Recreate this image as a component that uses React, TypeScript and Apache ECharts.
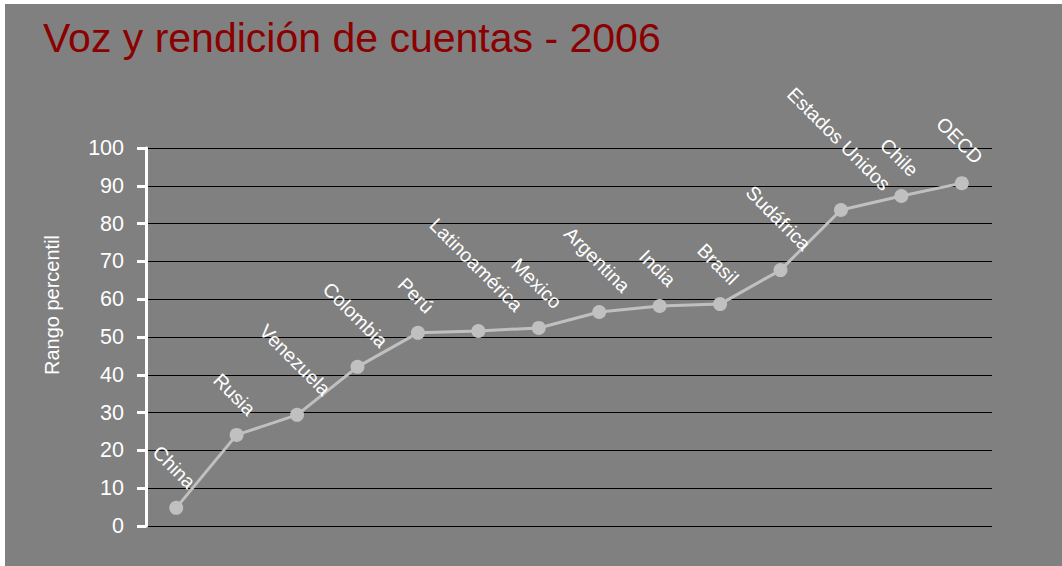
import React, { useEffect, useRef } from "react";
import * as echarts from "echarts";

const categories = [
  "China",
  "Rusia",
  "Venezuela",
  "Colombia",
  "Perú",
  "Latinoamérica",
  "Mexico",
  "Argentina",
  "India",
  "Brasil",
  "Sudáfrica",
  "Estados Unidos",
  "Chile",
  "OECD",
];
const values = [4.8, 24.1, 29.4, 42.1, 51.1, 51.6, 52.4, 56.6, 58.2, 58.7, 67.7, 83.6, 87.3, 90.7];
const yMin = 0;
const yMax = 100;
const yInterval = 10;
const titleText = "Voz y rendición de cuentas - 2006";
const yAxisName = "Rango percentil";

const FONT = "'Liberation Sans', Arial, sans-serif";
const LABEL_SIZE = 19.5;
const SYMBOL = 14;

function measure(text: string): number {
  const c = document.createElement("canvas").getContext("2d");
  if (!c) return text.length * LABEL_SIZE * 0.55;
  c.font = `${LABEL_SIZE}px 'Liberation Sans', Arial, sans-serif`;
  return c.measureText(text).width;
}

export default function App() {
  const ref = useRef<HTMLDivElement>(null);
  useEffect(() => {
    if (!ref.current) return;
    const chart = echarts.init(ref.current, undefined, { renderer: "svg" });
    // Rotated label box is centred horizontally above its point (like Excel)
    const seriesData = values.map((v, i) => {
      const w = measure(categories[i]);
      const dx = 0.354 * w - 2;
      return {
        value: v,
        label: { position: [SYMBOL / 2 + dx, SYMBOL / 2 - 23] },
      };
    });
    chart.setOption({
      animation: false,
      backgroundColor: "#808080",
      title: {
        text: titleText,
        left: 33,
        top: 8,
        textStyle: {
          color: "#8b0000",
          fontFamily: FONT,
          fontSize: 41,
          fontWeight: "normal",
        },
      },
      grid: { left: 141, right: 70, top: 144, bottom: 40 },
      xAxis: {
        type: "category",
        data: categories,
        boundaryGap: true,
        axisLine: { show: false },
        axisTick: { show: false },
        axisLabel: { show: false },
        splitLine: { show: false },
      },
      yAxis: {
        type: "value",
        min: yMin,
        max: yMax,
        interval: yInterval,
        name: yAxisName,
        nameLocation: "middle",
        nameGap: 84,
        nameRotate: 90,
        nameTextStyle: {
          color: "#ffffff",
          fontFamily: FONT,
          fontSize: 20,
          padding: [0, 0, 0, 64],
        },
        axisLine: { show: true, lineStyle: { color: "#ffffff", width: 3 } },
        axisTick: { show: true, length: 9, lineStyle: { color: "#ffffff", width: 3 } },
        axisLabel: { color: "#ffffff", fontFamily: FONT, fontSize: 21.5, margin: 22 },
        splitLine: { show: true, lineStyle: { color: "#000000", width: 1 } },
      },
      series: [
        {
          type: "line",
          data: seriesData,
          symbol: "circle",
          symbolSize: SYMBOL,
          itemStyle: { color: "#c0c0c0" },
          lineStyle: { color: "#c0c0c0", width: 3 },
          label: {
            show: true,
            formatter: (p: any) => p.name,
            rotate: -45,
            align: "right",
            verticalAlign: "middle",
            color: "#ffffff",
            fontFamily: FONT,
            fontSize: LABEL_SIZE,
          },
        },
      ],
    });
    return () => chart.dispose();
  }, []);
  return (
    <div
      ref={ref}
      style={{ position: "fixed", left: 5, top: 4, width: 1057, height: 562 }}
    />
  );
}
